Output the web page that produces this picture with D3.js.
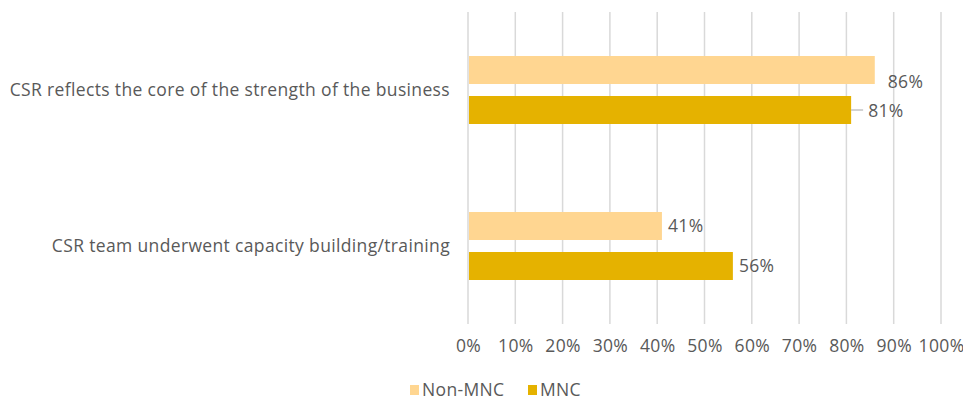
<!DOCTYPE html>
<html>
<head>
<meta charset="utf-8">
<script src="https://cdn.jsdelivr.net/npm/d3@7"></script>
<style>
  html, body { margin: 0; padding: 0; background: #fff; }
  svg text { font-family: "Open Sans", "Lato", sans-serif; fill: #595959; letter-spacing: 0.35px; }
</style>
</head>
<body>
<svg id="chart" width="963" height="401"></svg>
<script>
// Survey statements and shares of companies agreeing
const categories = [
  "CSR reflects the core of the strength of the business",
  "CSR team underwent capacity building/training"
];
const seriesNames = ["Non-MNC", "MNC"];
const nonMncValues = [0.86, 0.41];
const mncValues = [0.81, 0.56];
const xTicks = [0, 0.1, 0.2, 0.3, 0.4, 0.5, 0.6, 0.7, 0.8, 0.9, 1.0];

const colors = { "Non-MNC": "#FFD691", "MNC": "#E5B200" };

const svg = d3.select("#chart");
const margin = { left: 468, right: 22, top: 12, bottom: 77 };
const width = 963, height = 401;
const fontSize = "17.5px";

const x = d3.scaleLinear().domain([0, 1]).range([margin.left, width - margin.right]);
const y = d3.scaleBand().domain(categories).range([margin.top, height - margin.bottom]);
const barH = 28, barGap = 12;
const inner = d3.scaleOrdinal().domain(seriesNames)
  .range([-(barH + barGap / 2), barGap / 2]);

// vertical gridlines
svg.append("g")
  .selectAll("line")
  .data(xTicks.slice(1))
  .join("line")
  .attr("x1", d => x(d)).attr("x2", d => x(d))
  .attr("y1", margin.top).attr("y2", height - margin.bottom)
  .attr("stroke", "#d9d9d9").attr("stroke-width", 1.5);

// x axis labels
const xAxis = d3.axisBottom(x).tickValues(xTicks).tickFormat(d3.format(".0%")).tickSize(0).tickPadding(16);
const gx = svg.append("g").attr("transform", `translate(0,${height - margin.bottom})`).call(xAxis);
gx.select(".domain").remove();
gx.attr("font-family", null).attr("font-size", null);
gx.selectAll("text").style("font-size", fontSize).style("fill", "#595959");

// category axis line
svg.append("line")
  .attr("x1", x(0)).attr("x2", x(0))
  .attr("y1", margin.top).attr("y2", height - margin.bottom)
  .attr("stroke", "#d9d9d9").attr("stroke-width", 1.5);

// category labels
svg.append("g")
  .selectAll("text")
  .data(categories)
  .join("text")
  .attr("x", 450)
  .attr("y", d => y(d) + y.bandwidth() / 2)
  .attr("dy", "0.35em")
  .attr("text-anchor", "end")
  .style("font-size", fontSize)
  .text(d => d);

// bars
const rows = [];
categories.forEach((c, i) => {
  rows.push({ cat: c, series: "Non-MNC", value: nonMncValues[i] });
  rows.push({ cat: c, series: "MNC", value: mncValues[i] });
});

svg.append("g")
  .selectAll("rect")
  .data(rows)
  .join("rect")
  .attr("x", x(0) + 1)
  .attr("y", d => y(d.cat) + y.bandwidth() / 2 + inner(d.series))
  .attr("width", d => x(d.value) - x(0) - 1)
  .attr("height", barH)
  .attr("fill", d => colors[d.series]);

// value labels (first group's labels sit slightly offset, with a leader line for MNC)
const fmt = d3.format(".0%");
const labelOffsets = {
  "0-Non-MNC": { dx: 13, dy: 12 },
  "0-MNC": { dx: 17, dy: 1 },
  "1-Non-MNC": { dx: 6, dy: 0 },
  "1-MNC": { dx: 6, dy: 0 }
};
rows.forEach(d => {
  const ci = categories.indexOf(d.cat);
  const off = labelOffsets[`${ci}-${d.series}`];
  const bx = x(d.value);
  const by = y(d.cat) + y.bandwidth() / 2 + inner(d.series) + barH / 2;
  if (ci === 0 && d.series === "MNC") {
    svg.append("line")
      .attr("x1", bx).attr("x2", bx + off.dx - 5)
      .attr("y1", by).attr("y2", by)
      .attr("stroke", "#a6a6a6").attr("stroke-width", 1);
  }
  svg.append("text")
    .attr("x", bx + off.dx)
    .attr("y", by + off.dy)
    .attr("dy", "0.35em")
    .style("font-size", fontSize)
    .text(fmt(d.value));
});

// legend
const legend = svg.append("g").attr("transform", "translate(0,390)");
const legendItems = [
  { name: "Non-MNC", x: 410 },
  { name: "MNC", x: 528 }
];
legendItems.forEach(it => {
  legend.append("rect")
    .attr("x", it.x).attr("y", -5).attr("width", 9).attr("height", 10)
    .attr("fill", colors[it.name]);
  legend.append("text")
    .attr("x", it.x + 12).attr("y", 0).attr("dy", "0.35em")
    .style("font-size", fontSize)
    .text(it.name);
});
</script>
</body>
</html>
